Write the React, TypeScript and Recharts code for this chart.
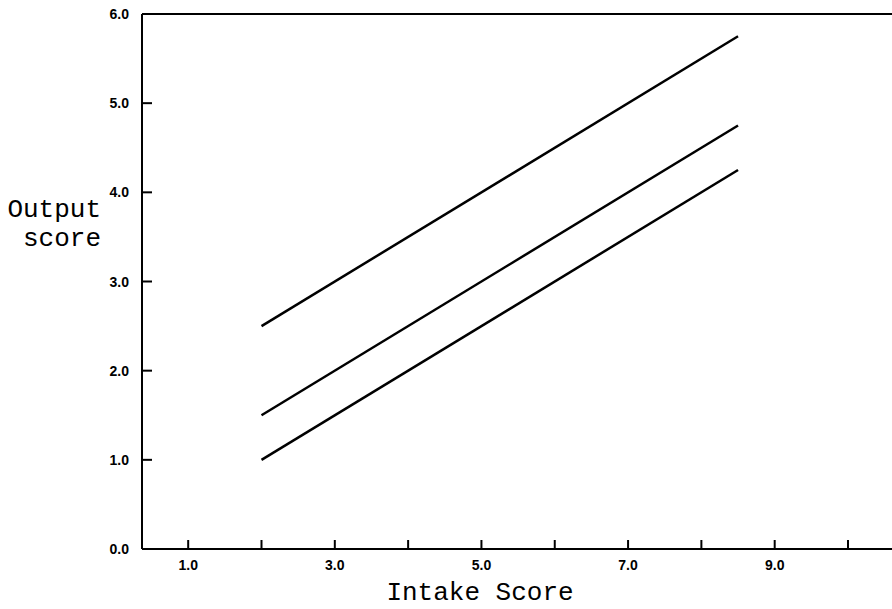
import { LineChart, Line, XAxis, YAxis, ReferenceLine } from 'recharts'

// values
const intakeX = [2.0, 8.5]
const upperLine = [2.5, 5.75]
const middleLine = [1.5, 4.75]
const lowerLine = [1.0, 4.25]
const xTicks = [1, 2, 3, 4, 5, 6, 7, 8, 9, 10]
const xLabelled = [1, 3, 5, 7, 9]
const yTicks = [0, 1, 2, 3, 4, 5, 6]

const data = intakeX.map((x, i) => ({
  x,
  upper: upperLine[i],
  middle: middleLine[i],
  lower: lowerLine[i]
}))

const tickFamily = '"Liberation Sans", Arial, sans-serif'
const titleFamily = '"Liberation Mono", "Courier New", monospace'

function XTick(props: any) {
  const { x, y, payload } = props
  const v = payload.value as number
  return (
    <g>
      {v > 0.5 && <line x1={x} y1={y} x2={x} y2={y - 9} stroke="#000" strokeWidth={2} />}
      {xLabelled.includes(v) && (
        <text x={x} y={y + 21} textAnchor="middle" fill="#000" fontFamily={tickFamily} fontWeight={700} fontSize={14}>
          {v.toFixed(1)}
        </text>
      )}
    </g>
  )
}

function YTick(props: any) {
  const { x, y, payload } = props
  const v = payload.value as number
  return (
    <g>
      {v > 0 && v < 6 && <line x1={x} y1={y} x2={x + 10} y2={y} stroke="#000" strokeWidth={2} />}
      <text x={x - 13} y={y + 5} textAnchor="end" fill="#000" fontFamily={tickFamily} fontWeight={700} fontSize={14}>
        {v.toFixed(1)}
      </text>
    </g>
  )
}

export default function App() {
  return (
    <div style={{ position: 'absolute', left: 0, top: 0, width: 892, height: 609, background: '#fff' }}>
      <LineChart width={892} height={609} data={data} margin={{ top: 14, right: 0, left: 0, bottom: 0 }}>
        <XAxis
          dataKey="x"
          type="number"
          domain={[0.37, 10.6]}
          ticks={xTicks}
          interval={0}
          height={60}
          tickSize={0}
          tickMargin={0}
          tickLine={false}
          tick={<XTick />}
          axisLine={{ stroke: '#000', strokeWidth: 2 }}
          allowDataOverflow
        />
        <YAxis
          type="number"
          domain={[0, 6]}
          ticks={yTicks}
          interval={0}
          width={142}
          tickSize={0}
          tickMargin={0}
          tickLine={false}
          tick={<YTick />}
          axisLine={{ stroke: '#000', strokeWidth: 2 }}
        />
        <ReferenceLine y={6} stroke="#000" strokeWidth={2} />
        <Line dataKey="upper" stroke="#000" strokeWidth={2.5} dot={false} isAnimationActive={false} />
        <Line dataKey="middle" stroke="#000" strokeWidth={2.5} dot={false} isAnimationActive={false} />
        <Line dataKey="lower" stroke="#000" strokeWidth={2.5} dot={false} isAnimationActive={false} />
        <text x={101} y={217} textAnchor="end" fill="#000" fontFamily={titleFamily} fontSize={26}>Output</text>
        <text x={101} y={246} textAnchor="end" fill="#000" fontFamily={titleFamily} fontSize={26}>score</text>
        <text x={480} y={600} textAnchor="middle" fill="#000" fontFamily={titleFamily} fontSize={26}>Intake Score</text>
      </LineChart>
    </div>
  )
}
